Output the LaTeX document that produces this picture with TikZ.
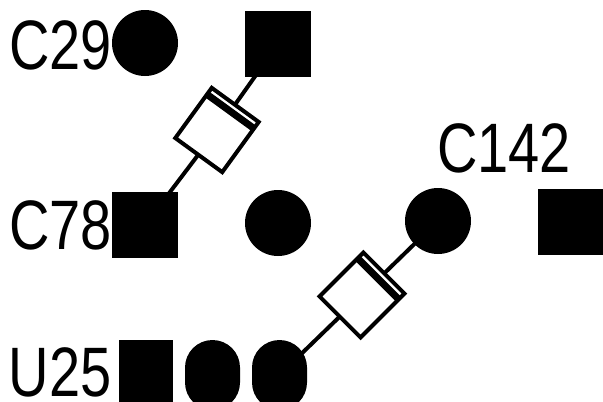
\documentclass[tikz,border=0pt]{standalone}
\usepackage{fontspec}
\newfontfamily\silkfont[FakeStretch=0.8]{Liberation Sans}
\usetikzlibrary{calc,backgrounds}

\begin{document}
\begin{tikzpicture}[x=1pt,y=-1pt,
  pad/.style={fill=black, inner sep=0pt, outer sep=0pt},
  sqpad/.style={pad, rectangle, minimum size=66pt},
  rndpad/.style={pad, circle, minimum size=66pt},
  dippad/.style={pad, rectangle, minimum width=54pt, minimum height=70pt},
  ovalpad/.style={pad, rectangle, rounded corners=27.5pt, minimum width=55pt, minimum height=70pt},
  capbody/.style={draw=black, fill=white, line width=4pt, rectangle, inner sep=0pt,
                  outer sep=0pt, minimum width=62pt, minimum height=58pt},
  wire/.style={line width=4pt},
  polarity/.style={line width=7pt},
  refdes/.style={font=\silkfont\fontsize{70}{70}\selectfont, inner sep=0pt, anchor=base west}]

\useasboundingbox (0,0) rectangle (603,402);
\clip (0,0) rectangle (603,402);

% pads
\node[rndpad] (c29a) at (145,43) {};
\node[sqpad]  (c29b) at (278,44) {};
\node[sqpad]  (c78a) at (145,225) {};
\node[rndpad] (c78b) at (278,223) {};
\node[rndpad] (c142a) at (438,221) {};
\node[sqpad]  (c142b) at (571,222) {};
\node[dippad]  (u25p1) at (146,375) {};
\node[ovalpad] (u25p2) at (212.5,375) {};
\node[ovalpad] (u25p3) at (279.5,375) {};

% capacitor bodies with polarity band at the top-right end
\node[capbody, rotate=54] (cap1) at (217,130) {};
\node[capbody, rotate=45] (cap2) at (362,295) {};
\draw[polarity] ($(cap1.north east)!0.13!(cap1.north west)$) -- ($(cap1.south east)!0.13!(cap1.south west)$);
\draw[polarity] ($(cap2.north east)!0.13!(cap2.north west)$) -- ($(cap2.south east)!0.13!(cap2.south west)$);

% leads, behind the pads
\begin{pgfonlayer}{background}
  \fill[white] (0,0) rectangle (603,402);
  \draw[wire] (c29b.center) -- (cap1);
  \draw[wire] (cap1) -- (c78a.center);
  \draw[wire] (c142a.center) -- (cap2);
  \draw[wire] (cap2) -- (u25p3.center);
\end{pgfonlayer}

% reference designators
\node[refdes] (lc29) at (9,69) {C29};
\node[refdes] (lc78) at (9,249) {C78};
\node[refdes] (lc142) at (437,172) {C142};
\node[refdes] (lu25) at (8.5,396) {U25};
\end{tikzpicture}
\end{document}
